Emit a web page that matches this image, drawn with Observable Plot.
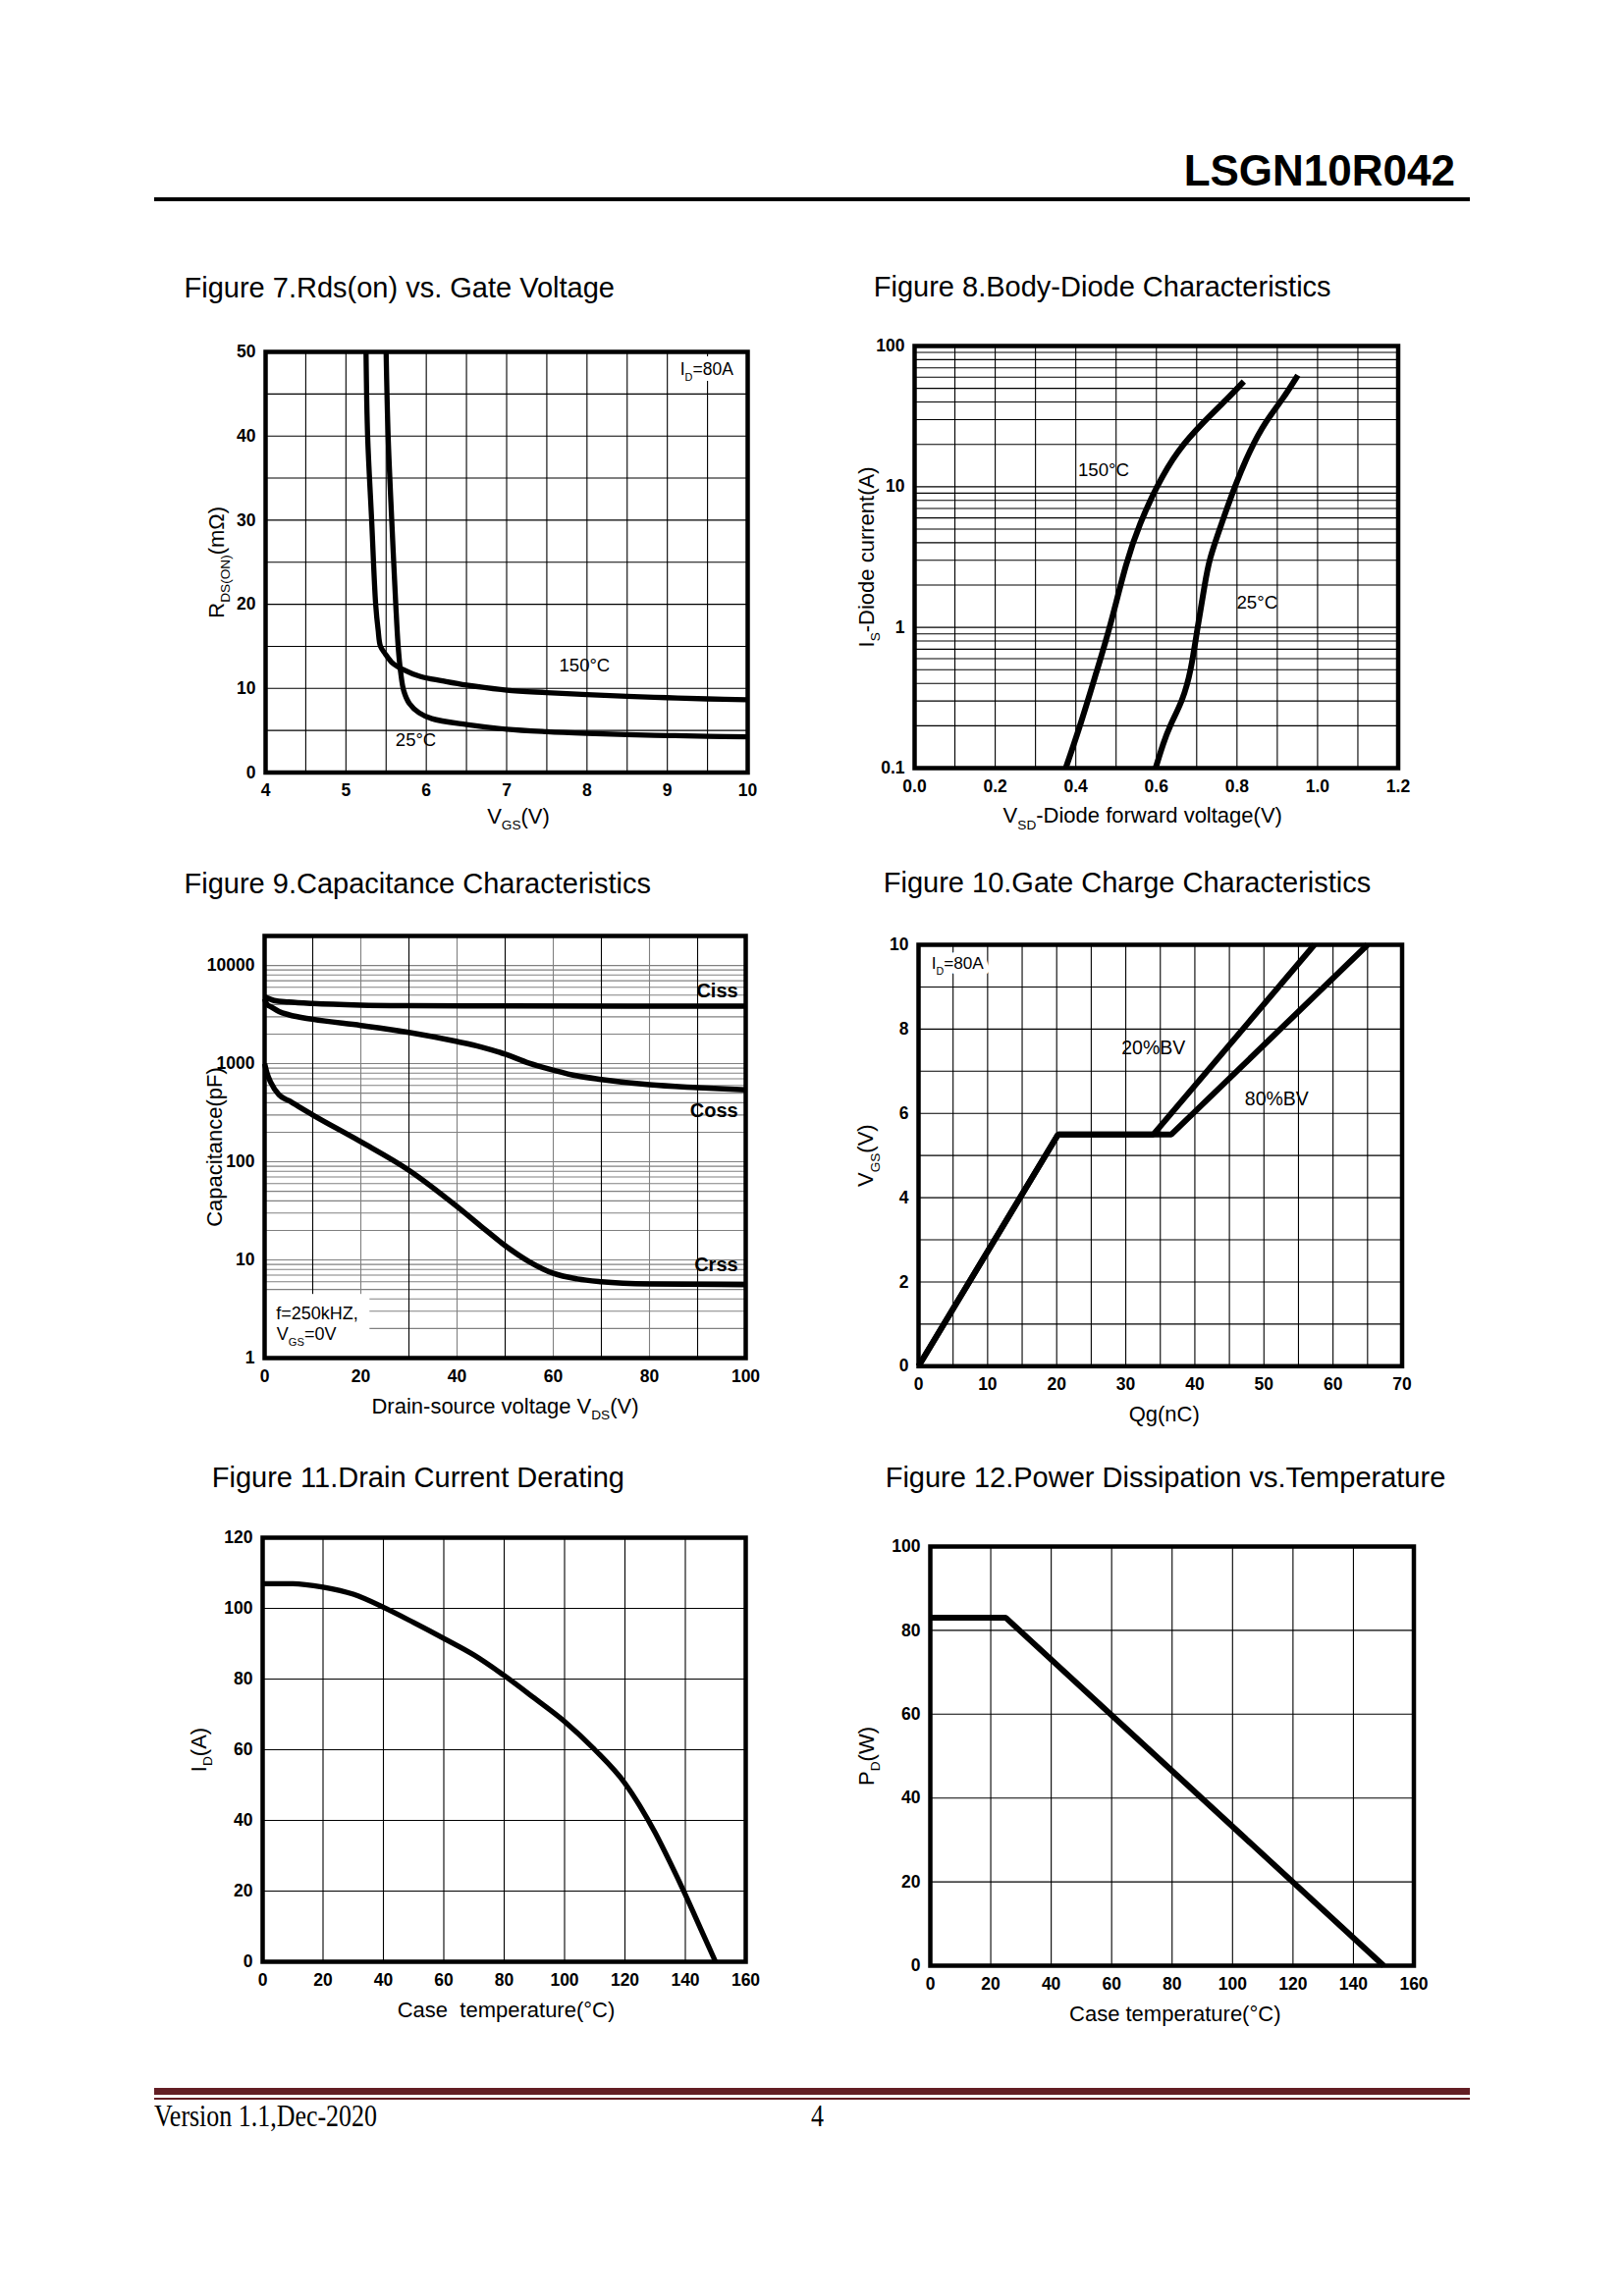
<!DOCTYPE html>
<html><head><meta charset="utf-8">
<script src="https://cdn.jsdelivr.net/npm/d3@7"></script>
<script src="https://cdn.jsdelivr.net/npm/@observablehq/plot@0.6"></script>
<style>
html,body{margin:0;padding:0;background:#fff;}
#page{position:relative;width:1654px;height:2339px;overflow:hidden;background:#fff;font-family:"Liberation Sans",Arial,sans-serif;color:#000;}
.title{position:absolute;font-size:29px;line-height:1;white-space:nowrap;}
.hdr{position:absolute;font-weight:bold;font-size:44px;line-height:1;white-space:nowrap;}
.foot{position:absolute;font-family:"Liberation Serif","Times New Roman",serif;font-size:31px;line-height:1;white-space:nowrap;transform:scaleX(0.837);transform-origin:left top;}
.rule{position:absolute;}
</style></head><body><div id="page"></div>
<script>
// ---------------- DATA ----------------
const docTitle = "LSGN10R042";
const footerVersion = "Version 1.1,Dec-2020";
const footerPage = "4";

const figTitles = [
  "Figure 7.Rds(on) vs. Gate Voltage",
  "Figure 8.Body-Diode Characteristics",
  "Figure 9.Capacitance Characteristics",
  "Figure 10.Gate Charge Characteristics",
  "Figure 11.Drain Current Derating",
  "Figure 12.Power Dissipation vs.Temperature"
];

// Figure 7 : Rds(on) vs VGS  [VGS (V), Rds (mOhm)]
const fig7XTicks = [4, 5, 6, 7, 8, 9, 10];
const fig7YTicks = [0, 10, 20, 30, 40, 50];
const fig7Rds150 = [[5.25,50],[5.27,40],[5.32,30],[5.37,20],[5.40,17],[5.43,15],[5.49,14.1],[5.58,13.0],[5.70,12.3],[5.93,11.4],[6.2,10.9],[6.5,10.4],[7,9.8],[7.5,9.5],[8,9.25],[8.5,9.05],[9,8.9],[9.5,8.75],[10,8.65]];
const fig7Rds25 = [[5.50,50],[5.525,40],[5.57,30],[5.62,20],[5.65,15],[5.68,12],[5.72,9.7],[5.79,8.2],[5.91,7.1],[6.07,6.4],[6.5,5.7],[7,5.15],[7.5,4.85],[8,4.65],[8.5,4.5],[9,4.4],[9.5,4.3],[10,4.25]];
const fig7Notes = [{x:7.97, y:12.7, t:"150°C"}, {x:5.87, y:3.8, t:"25°C"}];
const fig7Cond = [{x:9.49, y:47.9, t:"I_{D}=80A"}];

// Figure 8 : body diode  [VSD (V), IS (A)]
const fig8XTicks = [0, 0.2, 0.4, 0.6, 0.8, 1.0, 1.2];
const fig8YTicks = [0.1, 1, 10, 100];
const fig8Is150 = [[0.375,0.1],[0.411,0.2],[0.452,0.49],[0.485,1],[0.526,3],[0.559,5.5],[0.60,10],[0.651,18],[0.72,29.5],[0.776,42],[0.817,56]];
const fig8Is25 = [[0.598,0.1],[0.617,0.15],[0.633,0.2],[0.665,0.3],[0.686,0.49],[0.702,1],[0.72,2],[0.73,3],[0.762,5.5],[0.794,10],[0.831,18],[0.872,29.5],[0.914,42],[0.951,62]];
const fig8Notes = [{x:0.469, y:13.1, t:"150°C"}, {x:0.85, y:1.49, t:"25°C"}];

// Figure 9 : capacitance  [VDS (V), C (pF)]
const fig9XTicks = [0, 20, 40, 60, 80, 100];
const fig9YTicks = [1, 10, 100, 1000, 10000];
const fig9Ciss = [[0,4800],[2,4400],[5,4250],[10,4100],[20,3950],[30,3900],[50,3870],[100,3850]];
const fig9Coss = [[0,4600],[0.5,4000],[1.3,3800],[3,3400],[5,3150],[10,2830],[20,2450],[30,2080],[40,1680],[45,1480],[50,1250],[55,1010],[60,860],[65,750],[70,690],[80,610],[90,570],[100,540]];
const fig9Crss = [[0,1000],[0.5,800],[1.3,640],[3,480],[5,420],[10,300],[20,160],[30,82],[40,35],[45,22],[50,14],[55,9.6],[60,7.3],[65,6.4],[70,6.0],[80,5.7],[100,5.6]];
const fig9Series = [{x:98.4, y:5500, t:"Ciss"}, {x:98.4, y:330, t:"Coss"}, {x:98.4, y:9.0, t:"Crss"}];
const fig9Cond = [{x:2.4, y:2.83, t:"f=250kHZ,"}, {x:2.5, y:1.74, t:"V_{GS}=0V"}];
const fig9NoteBox = [{x1:0, x2:21.9, y1:1, y2:4.45}];

// Figure 10 : gate charge  [Qg (nC), VGS (V)]
const fig10XTicks = [0, 10, 20, 30, 40, 50, 60, 70];
const fig10YTicks = [0, 2, 4, 6, 8, 10];
const fig10Bv20 = [[0,0],[20.2,5.5],[34.0,5.5],[57.3,10]];
const fig10Bv80 = [[0,0],[20.2,5.5],[36.6,5.5],[65.0,10]];
const fig10Notes = [{x:34.0, y:7.54, t:"20%BV"}, {x:51.85, y:6.33, t:"80%BV"}];
const fig10Cond = [{x:1.87, y:9.55, t:"I_{D}=80A"}];

// Figure 11 : drain current derating  [Tc (°C), ID (A)]
const fig11XTicks = [0, 20, 40, 60, 80, 100, 120, 140, 160];
const fig11YTicks = [0, 20, 40, 60, 80, 100, 120];
const fig11Id = [[0,107],[10,107],[20,106],[30,104],[40,100.3],[50,96],[60,91.5],[70,86.8],[80,81],[90,74.6],[100,68],[110,60],[120,50.5],[125,44],[130,36.5],[135,28],[140,19],[145,9.5],[150,0]];

// Figure 12 : power dissipation  [Tc (°C), PD (W)]
const fig12XTicks = [0, 20, 40, 60, 80, 100, 120, 140, 160];
const fig12YTicks = [0, 20, 40, 60, 80, 100];
const fig12Pd = [[0,83],[25,83],[150,0]];

// ---------------- HELPERS ----------------
const FONT = '"Liberation Sans", Arial, sans-serif';
const page = document.getElementById("page");
const SVGNS = "http://www.w3.org/2000/svg";

function addDiv(cls, text, css) {
  const d = document.createElement("div");
  d.className = cls; d.textContent = text;
  Object.assign(d.style, css);
  page.appendChild(d);
  return d;
}
function subscriptify(root) {
  root.querySelectorAll("text").forEach(t => {
    const s = t.textContent;
    if (!s.includes("_{")) return;
    while (t.firstChild) t.removeChild(t.firstChild);
    const parts = s.split(/_\{([^}]*)\}/);
    let shifted = false;
    parts.forEach((p, i) => {
      if (!p) return;
      const ts = document.createElementNS(SVGNS, "tspan");
      ts.textContent = p;
      if (i % 2 === 1) { ts.setAttribute("font-size", "62%"); ts.setAttribute("dy", "0.5em"); shifted = true; }
      else if (shifted) { ts.setAttribute("dy", "-0.31em"); shifted = false; }
      t.appendChild(ts);
    });
  });
}
function range(a, b, step) { const out = []; for (let v = a; v <= b + 1e-9; v += step) out.push(+v.toFixed(6)); return out; }
function logGrid(lo, hi) {
  const out = [];
  for (let d = lo; d < hi * 0.999; d *= 10) for (let k = 1; k <= 9; k++) out.push(+(d * k).toPrecision(6));
  out.push(hi);
  return out;
}
const lineStyle = (w, curve = "catmull-rom") => ({x: d => d[0], y: d => d[1], stroke: "black", strokeWidth: w, curve, strokeLinejoin: "round", strokeLinecap: "butt"});
const linStyle = (w) => ({x: d => d[0], y: d => d[1], stroke: "black", strokeWidth: w, curve: "linear", strokeLinejoin: "miter", strokeLinecap: "butt"});
const ann = (size, extra = {}) => Object.assign({x: "x", y: "y", text: "t", fontSize: size, fontWeight: "normal", fill: "black"}, extra);
// white backing behind a label (drawn as its own layer so the glyphs stay intact)
const backing = (data, size, extra = {}) => Plot.text(data, ann(size, Object.assign({fill: "white", stroke: "white", strokeWidth: 12}, extra)));

function axisLabelMarks(xl, yl, xdy, ydx, xdx = 0) {
  return [
    Plot.text([xl], {frameAnchor: "bottom", text: d => d, dy: xdy, dx: xdx, fontSize: 22, fontWeight: "normal", fill: "black", textAnchor: "middle", lineAnchor: "middle"}),
    Plot.text([yl], {frameAnchor: "left", text: d => d, dx: ydx, rotate: -90, fontSize: 22, fontWeight: "normal", fill: "black", textAnchor: "middle", lineAnchor: "middle"})
  ];
}

function placeChart(frame, x, y, marks) {
  const [L, T, R, B] = frame;
  const m = {left: 110, right: 30, top: 30, bottom: 80};
  const svg = Plot.plot({
    width: R - L + m.left + m.right,
    height: B - T + m.top + m.bottom,
    marginLeft: m.left, marginRight: m.right, marginTop: m.top, marginBottom: m.bottom,
    style: {fontFamily: FONT, fontSize: "17.5px", fontWeight: "bold", color: "black", background: "transparent", overflow: "visible", maxWidth: "none"},
    x, y, marks
  });
  subscriptify(svg);
  svg.style.position = "absolute";
  svg.style.left = (L - m.left) + "px";
  svg.style.top = (T - m.top) + "px";
  page.appendChild(svg);
}
const axX = (domain, ticks, fmt, type = "linear") => ({type, domain, ticks, tickFormat: fmt, tickSize: 0, tickPadding: 12, label: null});
const axY = (domain, ticks, fmt, type = "linear") => ({type, domain, ticks, tickFormat: fmt, tickSize: 0, tickPadding: 10, label: null});
const grid = (dir, ticks, color = "black", w = 1.1) =>
  (dir === "x" ? Plot.gridX : Plot.gridY)({ticks, stroke: color, strokeOpacity: 1, strokeWidth: w});
const frameMark = () => Plot.frame({stroke: "black", strokeWidth: 4.5});

// ---------------- PAGE FURNITURE ----------------
addDiv("hdr", docTitle, {right: (1654 - 1482) + "px", top: (189 - 0.8465 * 44) + "px"});
addDiv("rule", "", {left: "157px", width: "1340px", top: "201px", height: "3.5px", background: "#000"});
addDiv("rule", "", {left: "157px", width: "1340px", top: "2127px", height: "7px", background: "#631e24"});
addDiv("rule", "", {left: "157px", width: "1340px", top: "2136.5px", height: "2.5px", background: "#631e24"});
addDiv("foot", footerVersion, {left: "157px", top: (2166 - 0.8375 * 31) + "px"});
addDiv("foot", footerPage, {left: "826px", top: (2166 - 0.8375 * 31) + "px"});

const titlePos = [[187.5, 304], [889.8, 303], [187.5, 910.5], [899.8, 910], [215.8, 1515.5], [901.7, 1515.5]];
figTitles.forEach((t, i) => addDiv("title", t, {left: titlePos[i][0] + "px", top: (titlePos[i][1] - 0.8465 * 29) + "px"}));

// ---------------- FIGURE 7 ----------------
placeChart([270, 357.5, 761, 786],
  axX([4, 10], fig7XTicks, d => String(d)),
  axY([0, 50], fig7YTicks, d => String(d)),
  [
    grid("x", range(4.5, 9.5, 0.5)),
    grid("y", range(5, 45, 5)),
    Plot.line(fig7Rds150, lineStyle(5.3)),
    Plot.line(fig7Rds25, lineStyle(5.3)),
    Plot.text(fig7Notes, ann(18.5)),
    backing(fig7Cond, 17.5),
    Plot.text(fig7Cond, ann(17.5)),
    frameMark(),
    ...axisLabelMarks("V_{GS}(V)", "R_{DS(ON)}(mΩ)", 44.5, -50, 12)
  ]);

// ---------------- FIGURE 8 ----------------
placeChart([931, 352, 1423.5, 782],
  axX([0, 1.2], fig8XTicks, d3.format(".1f")),
  axY([0.1, 100], fig8YTicks, d => String(d), "log"),
  [
    grid("x", range(0.1, 1.1, 0.1)),
    grid("y", logGrid(0.1, 100)),
    Plot.line(fig8Is150, lineStyle(6, "basis")),
    Plot.line(fig8Is25, lineStyle(6, "basis")),
    Plot.text(fig8Notes, ann(18.7)),
    frameMark(),
    ...axisLabelMarks("V_{SD}-Diode forward voltage(V)", "I_{S}-Diode current(A)", 48.5, -49, -14)
  ]);

// ---------------- FIGURE 9 ----------------
placeChart([269, 953.3, 759, 1383.3],
  axX([0, 100], fig9XTicks, d => String(d)),
  axY([1, 20000], fig9YTicks, d => String(d), "log"),
  [
    grid("y", logGrid(1, 10000), "#808080", 1.1),
    grid("x", [20, 40, 60, 80], "#808080", 1.1),
    grid("x", [10, 30, 50, 70, 90], "black", 1.1),
    Plot.rect(fig9NoteBox, {x1: "x1", x2: "x2", y1: "y1", y2: "y2", fill: "white"}),
    Plot.line(fig9Ciss, lineStyle(5.5, "monotone-x")),
    Plot.line(fig9Coss, lineStyle(5.5, "monotone-x")),
    Plot.line(fig9Crss, lineStyle(5.5, "monotone-x")),
    Plot.text(fig9Series, ann(20, {fontWeight: "bold", textAnchor: "end"})),
    Plot.text(fig9Cond, ann(18, {textAnchor: "start"})),
    frameMark(),
    ...axisLabelMarks("Drain-source voltage V_{DS}(V)", "Capacitance(pF)", 49, -51, 0)
  ]);

// ---------------- FIGURE 10 ----------------
placeChart([934.5, 962.3, 1427, 1391.6],
  axX([0, 70], fig10XTicks, d => String(d)),
  axY([0, 10], fig10YTicks, d => String(d)),
  [
    grid("x", range(5, 65, 5)),
    grid("y", range(1, 9, 1)),
    Plot.line(fig10Bv20, linStyle(6)),
    Plot.line(fig10Bv80, linStyle(6)),
    Plot.text(fig10Notes, ann(19.5)),
    backing(fig10Cond, 17.2, {textAnchor: "start"}),
    Plot.text(fig10Cond, ann(17.2, {textAnchor: "start"})),
    frameMark(),
    ...axisLabelMarks("Qg(nC)", "V_{GS}(V)", 49, -53.8, 4)
  ]);

// ---------------- FIGURE 11 ----------------
placeChart([267, 1566, 759, 1998],
  axX([0, 160], fig11XTicks, d => String(d)),
  axY([0, 120], fig11YTicks, d => String(d)),
  [
    grid("x", range(20, 140, 20)),
    grid("y", range(20, 100, 20)),
    Plot.line(fig11Id, lineStyle(5.3, "monotone-x")),
    frameMark(),
    ...axisLabelMarks("Case  temperature(°C)", "I_{D}(A)", 49.5, -65, 2)
  ]);

// ---------------- FIGURE 12 ----------------
placeChart([946.5, 1575, 1439, 2002],
  axX([0, 160], fig12XTicks, d => String(d)),
  axY([0, 100], fig12YTicks, d => String(d)),
  [
    grid("x", range(20, 140, 20)),
    grid("y", range(20, 80, 20)),
    Plot.line(fig12Pd, linStyle(6)),
    frameMark(),
    ...axisLabelMarks("Case temperature(°C)", "P_{D}(W)", 49, -65, 3)
  ]);
</script></body></html>
